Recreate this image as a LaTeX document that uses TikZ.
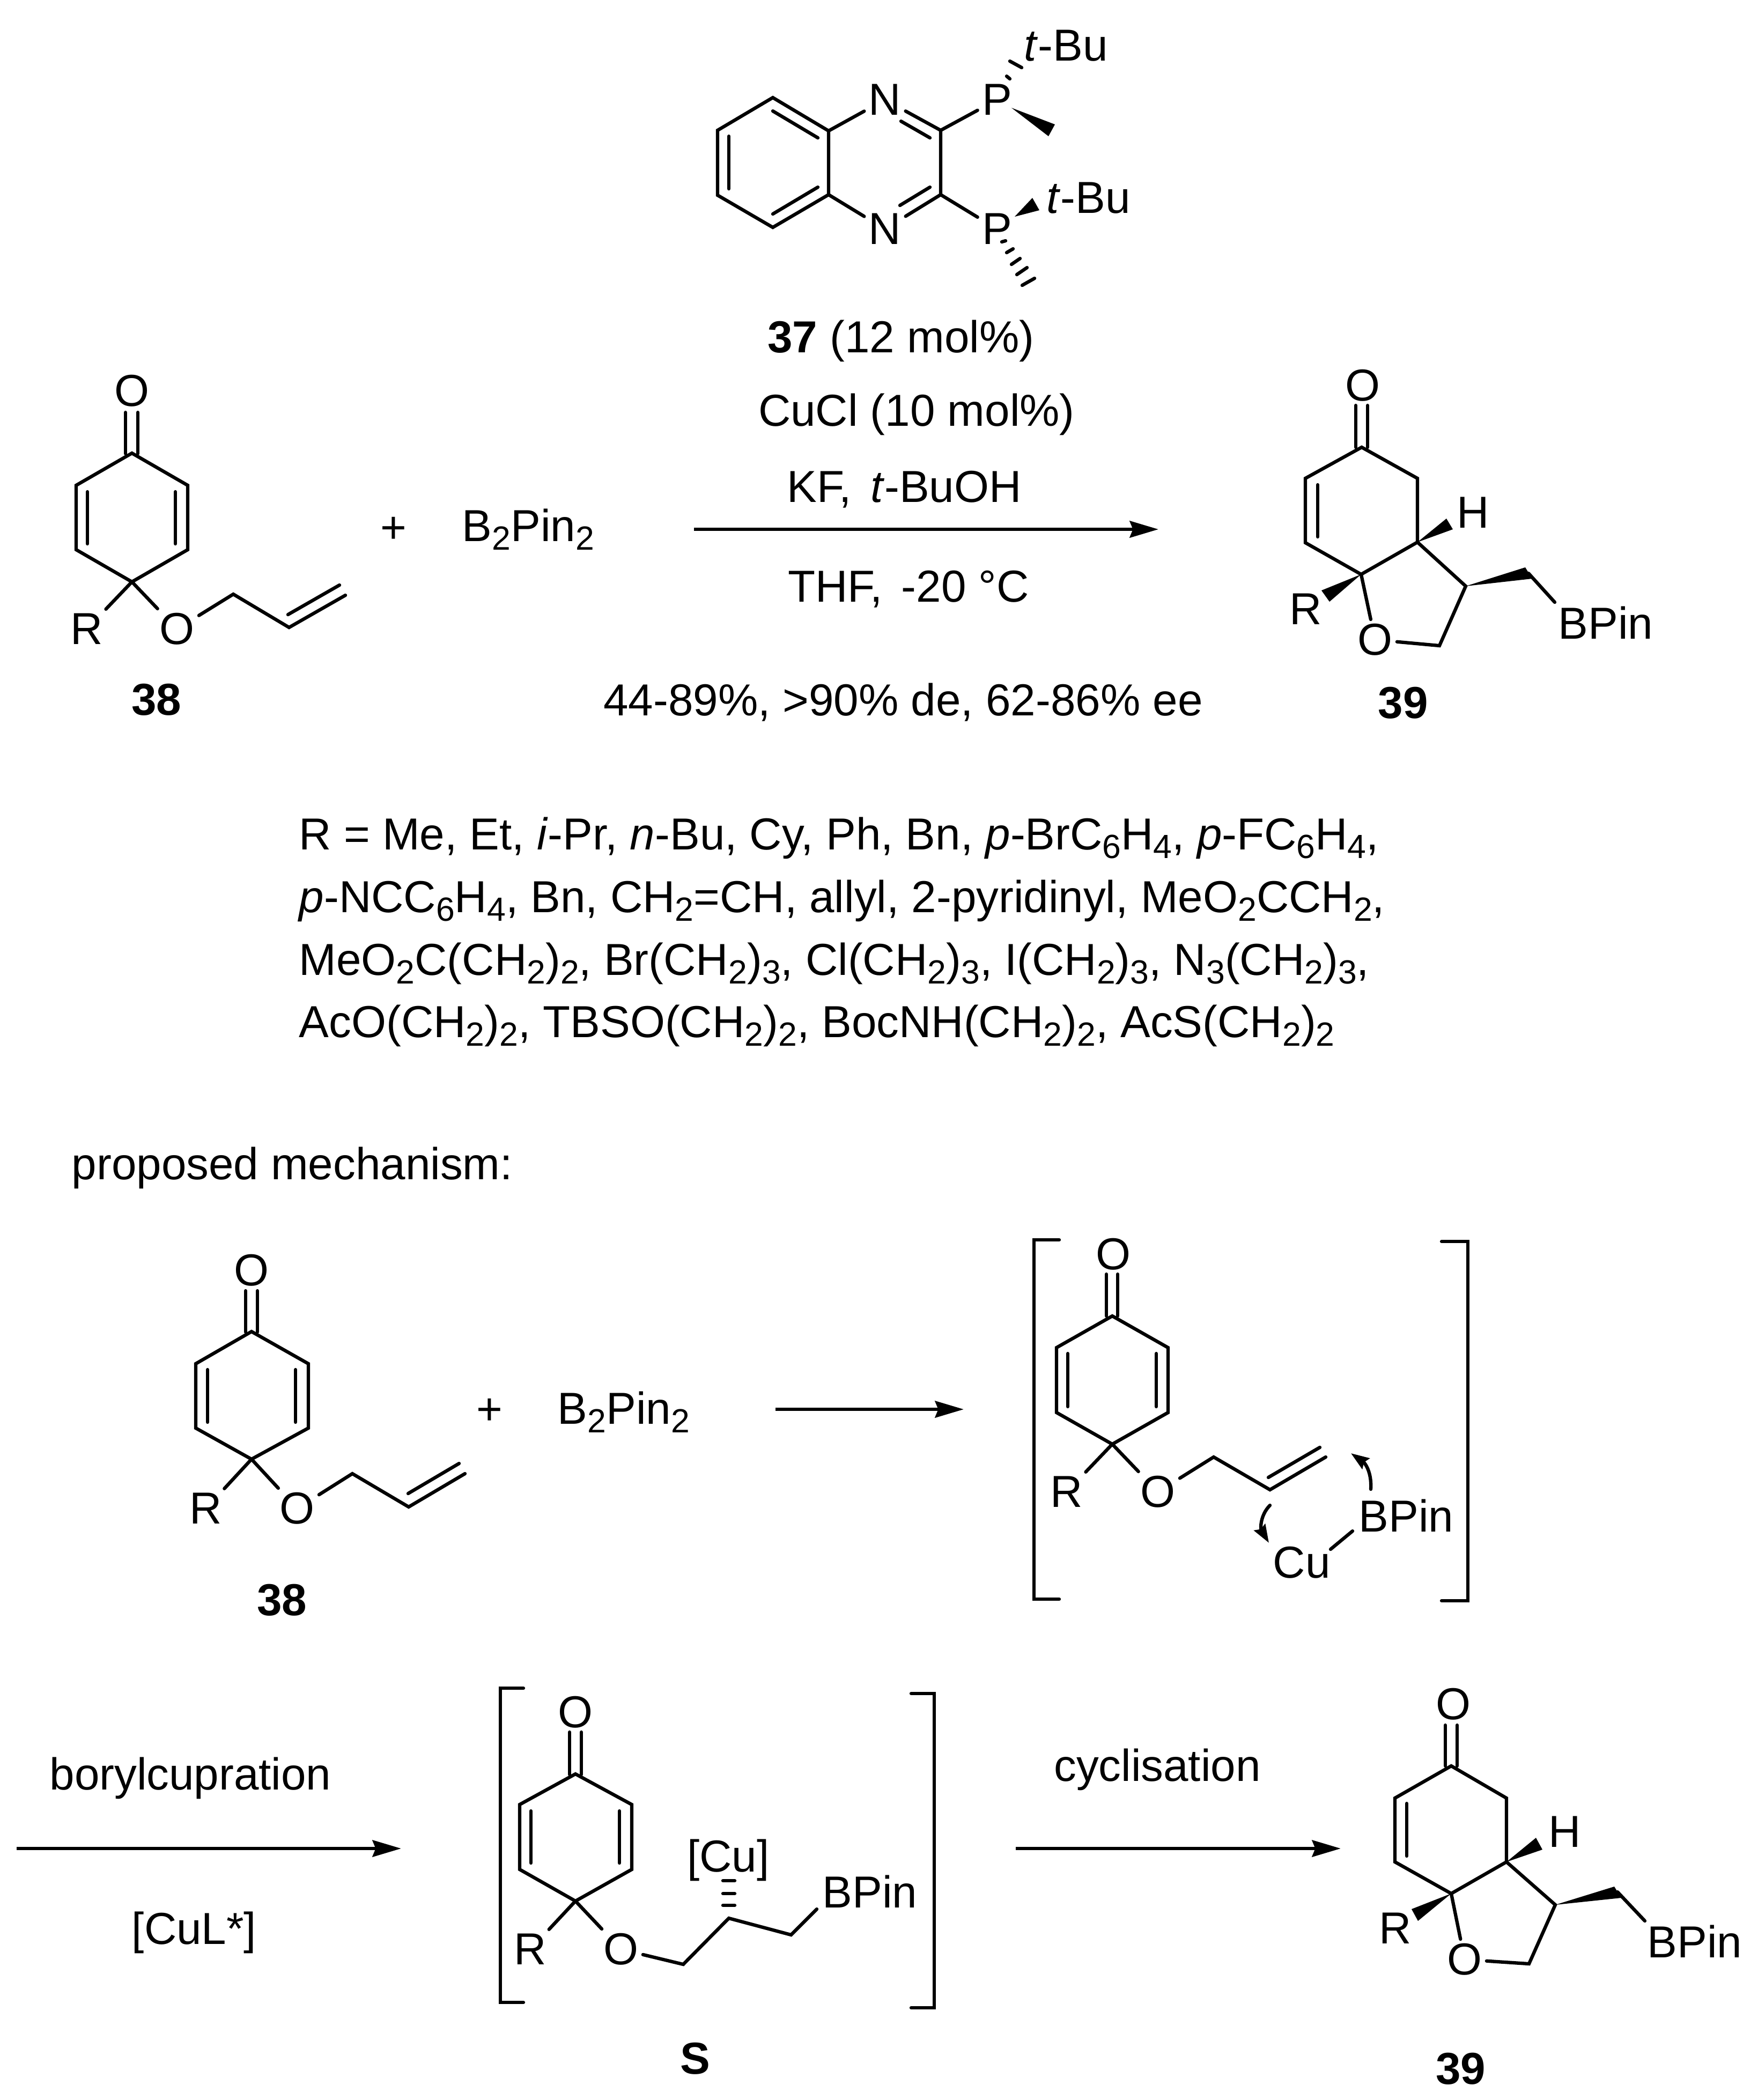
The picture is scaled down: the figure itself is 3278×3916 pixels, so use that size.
\documentclass[tikz,border=0pt]{standalone}
\usepackage{fontspec}
\setmainfont{Liberation Sans}
\usetikzlibrary{arrows.meta}
\newcommand{\sbs}[1]{\raisebox{-0.2em}{\fontsize{8.9}{10}\selectfont #1}}
\tikzset{
  bond/.style={line width=0.9pt, line cap=round},
  rxn/.style={line width=0.95pt, -{Stealth[length=7.6pt, width=4.4pt, inset=0.85pt]}},
  curly/.style={line width=0.9pt, line cap=round, -{Stealth[length=4.8pt, width=3.4pt, inset=0.6pt]}},
  atom/.style={inner sep=1pt},
  lab/.style={inner sep=0pt, anchor=base},
  labl/.style={inner sep=0pt, anchor=base west, xshift=-0.8pt},
  every node/.style={font=\fontsize{11.9}{14}\selectfont}
}

\begin{document}
\begin{tikzpicture}[x=0.005cm, y=-0.005cm]
    \useasboundingbox (0, 0) rectangle (3278, 3916);

    \foreach \n/\x/\y in {qa/1441/182, qb/1338/243, qc/1338/364, qd/1441/424, qe/1545/363, qf/1545/244, qg/1754/243, qh/1754/363,
      qi/1441/207, qj/1525/257, qk/1359/254, ql/1359/352, qm/1441/399, qo/1525/349, qp/1734/257, qr/1680/226, qs/1734/349, qt/1678/383}
      \coordinate (\n) at (\x, \y);

    \node [atom] (qN1) at (1650, 186) {N};
    \node [atom] (qN2) at (1650, 427) {N};
    \node [atom] (qP1) at (1859, 186) {P};
    \node [atom] (qP2) at (1859, 427) {P};
    \node [labl] (qtBu1) at (1914, 113) {\textit{t}-Bu};
    \node [labl] (qtBu2) at (1956, 397) {\textit{t}-Bu};

    \draw [bond] (qa) -- (qb) -- (qc) -- (qd) -- (qe) -- (qf) -- cycle;
    \draw [bond] (qi) -- (qj);
    \draw [bond] (qk) -- (ql);
    \draw [bond] (qm) -- (qo);
    \draw [bond] (qf) -- (qN1);
    \draw [bond] (qN1) -- (qg) -- (qh) -- (qN2);
    \draw [bond] (qe) -- (qN2);
    \draw [bond] (qp) -- (qr);
    \draw [bond] (qs) -- (qt);
    \draw [bond] (qg) -- (qP1);
    \draw [bond] (qh) -- (qP2);
    \fill (1886, 201) -- (1967, 232) -- (1955, 254) -- cycle;
    \fill (1892, 404) -- (1925, 369) -- (1938, 392) -- cycle;
    \draw [bond] (1883, 114) -- (1905, 126);
    \draw [bond] (1877, 142) -- (1883, 147);
    \foreach \xa/\ya/\xb/\yb in {1868/451/1875/449, 1877/471/1889/464, 1886/493/1902/482, 1896/512/1915/499, 1906/532/1929/519}
      \draw [bond] (\xa, \ya) -- (\xb, \yb);

    \foreach \n/\x/\y in {aa/246/845, ab/142/905, ac/142/1025, ad/246/1085, ae/350/1025, af/350/905, ag/234/769, ah/234/846, ai/257/769, aj/257/846,
      ak/163/917, al/163/1014, am/327/917, ao/327/1014, ap/435/1108, aq/539/1170, ar/644/1110, as/537/1146, at/633/1091}
      \coordinate (\n) at (\x, \y);

    \node [atom] (aO1) at (246, 729) {O};
    \node [atom] (aR) at (162, 1173) {R};
    \node [atom] (aO2) at (330, 1173) {O};
    \node [lab] (a38) at (292, 1333) {\textbf{38}};
    \node [atom] (aplus) at (734, 988) {+};
    \node [labl] (aB2) at (866, 1009) {B\sbs{2}Pin\sbs{2}};

    \draw [bond] (aa) -- (ab) -- (ac) -- (ad) -- (ae) -- (af) -- cycle;
    \draw [bond] (ag) -- (ah);
    \draw [bond] (ai) -- (aj);
    \draw [bond] (ak) -- (al);
    \draw [bond] (am) -- (ao);
    \draw [bond] (ad) -- (aR);
    \draw [bond] (ad) -- (aO2);
    \draw [bond] (aO2) -- (ap) -- (aq) -- (ar);
    \draw [bond] (as) -- (at);

    \coordinate (ra1) at (1294, 987);
    \coordinate (ra2) at (2160, 987);
    \draw [rxn] (ra1) -- (ra2);
    \node [lab] (r37) at (1680, 657) {\textbf{37} (12 mol\%)};
    \node [lab] (rCu) at (1709, 794) {CuCl (10 mol\%)};
    \node [lab] (rKF) at (1686, 936) {KF,\hspace{0.42em}\textit{t}-BuOH};
    \node [lab] (rTHF) at (1694, 1122) {THF,\hspace{0.42em}-20 °C};
    \node [lab] (ryield) at (1684, 1334) {44-89\%, >90\% de, 62-86\% ee};

    \foreach \n/\x/\y in {ba/2539/834, bb/2434/892, bc/2434/1012, bd/2538/1071, be/2643/1011, bf/2643/892, bg/2528/756, bh/2528/834, bi/2550/756, bj/2550/834,
      bk/2457/904, bl/2457/1001, bm/2684/1204, bn/2733/1093, bo/2850/1069, bp/2899/1123}
      \coordinate (\n) at (\x, \y);

    \node [atom] (bO1) at (2541, 719) {O};
    \node [atom] (bH) at (2747, 956) {H};
    \node [atom] (bR) at (2435, 1136) {R};
    \node [atom] (bO2) at (2564, 1193) {O};
    \node [labl] (bBPin) at (2910, 1191) {BPin};
    \node [lab] (b39) at (2616, 1339) {\textbf{39}};

    \draw [bond] (ba) -- (bb) -- (bc) -- (bd) -- (be) -- (bf) -- cycle;
    \draw [bond] (bg) -- (bh);
    \draw [bond] (bi) -- (bj);
    \draw [bond] (bk) -- (bl);
    \draw [bond] (be) -- (bn) -- (bm) -- (bO2) -- (bd);
    \draw [bond] (bo) -- (bp);
    \fill (be) -- (2697, 967) -- (2709, 987) -- cycle;
    \fill (bd) -- (2464, 1101) -- (2479, 1122) -- cycle;
    \fill (bn) -- (2844, 1058) -- (2857, 1079) -- cycle;

    \node [labl] (Rl1) at (562, 1584) {R = Me, Et, \textit{i}-Pr, \textit{n}-Bu, Cy, Ph, Bn, \textit{p}-BrC\sbs{6}H\sbs{4}, \textit{p}-FC\sbs{6}H\sbs{4},};
    \node [labl] (Rl2) at (562, 1701) {\textit{p}-NCC\sbs{6}H\sbs{4}, Bn, CH\sbs{2}=CH, allyl, 2-pyridinyl, MeO\sbs{2}CCH\sbs{2},};
    \node [labl] (Rl3) at (562, 1818) {MeO\sbs{2}C(CH\sbs{2})\sbs{2}, Br(CH\sbs{2})\sbs{3}, Cl(CH\sbs{2})\sbs{3}, I(CH\sbs{2})\sbs{3}, N\sbs{3}(CH\sbs{2})\sbs{3},};
    \node [labl] (Rl4) at (562, 1934) {AcO(CH\sbs{2})\sbs{2}, TBSO(CH\sbs{2})\sbs{2}, BocNH(CH\sbs{2})\sbs{2}, AcS(CH\sbs{2})\sbs{2}};
    \node [labl] (mech) at (138, 2199) {proposed mechanism:};

    \foreach \n/\x/\y in {ca/469/2483, cb/365/2543, cc/365/2663, cd/469/2721, ce/575/2663, cf/575/2543, cg/458/2407, ch/458/2484, ci/480/2407, cj/480/2484,
      ck/387/2554, cl/387/2652, cm/551/2554, co/551/2652, cp/657/2748, cq/762/2810, cr/867/2748, cs/761/2785, ct/856/2729}
      \coordinate (\n) at (\x, \y);

    \node [atom] (cO1) at (469, 2369) {O};
    \node [atom] (cR) at (384, 2813) {R};
    \node [atom] (cO2) at (554, 2813) {O};
    \node [lab] (c38) at (526, 3012) {\textbf{38}};
    \node [atom] (cplus) at (913, 2632) {+};
    \node [labl] (cB2) at (1044, 2655) {B\sbs{2}Pin\sbs{2}};

    \draw [bond] (ca) -- (cb) -- (cc) -- (cd) -- (ce) -- (cf) -- cycle;
    \draw [bond] (cg) -- (ch);
    \draw [bond] (ci) -- (cj);
    \draw [bond] (ck) -- (cl);
    \draw [bond] (cm) -- (co);
    \draw [bond] (cd) -- (cR);
    \draw [bond] (cd) -- (cO2);
    \draw [bond] (cO2) -- (cp) -- (cq) -- (cr);
    \draw [bond] (cs) -- (ct);

    \coordinate (ma1) at (1446, 2628);
    \coordinate (ma2) at (1797, 2628);
    \draw [rxn] (ma1) -- (ma2);

    \foreach \n/\x/\y in {da/2074/2454, db/1970/2513, dc/1970/2634, dd/2074/2693, de/2178/2634, df/2178/2513, dg/2063/2376, dh/2063/2454, di/2084/2376, dj/2084/2454,
      dk/1991/2524, dl/1991/2623, dm/2156/2524, dn/2156/2623, dp/2263/2717, dq/2368/2778, dr/2472/2717, ds/2365/2755, dt/2461/2699,
      du/2481/2889, dv/2522/2855}
      \coordinate (\n) at (\x, \y);

    \node [atom] (dO1) at (2076, 2339) {O};
    \node [atom] (dR) at (1989, 2782) {R};
    \node [atom] (dO2) at (2159, 2782) {O};
    \node [labl] (dBPin) at (2538, 2856) {BPin};
    \node [labl] (dCu) at (2378, 2942) {Cu};

    \draw [bond] (da) -- (db) -- (dc) -- (dd) -- (de) -- (df) -- cycle;
    \draw [bond] (dg) -- (dh);
    \draw [bond] (di) -- (dj);
    \draw [bond] (dk) -- (dl);
    \draw [bond] (dm) -- (dn);
    \draw [bond] (dd) -- (dR);
    \draw [bond] (dd) -- (dO2);
    \draw [bond] (dO2) -- (dp) -- (dq) -- (dr);
    \draw [bond] (ds) -- (dt);
    \draw [bond] (du) -- (dv);
    \draw [curly] (2556, 2777) .. controls (2558, 2745) and (2545, 2728) .. (2519, 2710);
    \draw [curly] (2368, 2807) .. controls (2350, 2825) and (2350, 2850) .. (2366, 2877);
    \draw [bond] (1975, 2312) -- (1928, 2312) -- (1928, 2982) -- (1975, 2982);
    \draw [bond] (2688, 2315) -- (2737, 2315) -- (2737, 2985) -- (2688, 2985);

    \coordinate (ba1) at (31, 3447);
    \coordinate (ba2) at (748, 3447);
    \draw [rxn] (ba1) -- (ba2);
    \node [lab] (bbory) at (355, 3337) {borylcupration};
    \node [lab] (bCuL) at (362, 3625) {[CuL*]};

    \foreach \n/\x/\y in {ea/1073/3308, eb/969/3365, ec/969/3486, ed/1073/3545, ee/1178/3486, ef/1178/3365, eg/1062/3230, eh/1062/3309, ei/1084/3230, ej/1084/3309,
      ek/990/3377, el/990/3474, em/1155/3377, en/1155/3474, ep/1274/3663, eq/1359/3577, er/1475/3608, es/1523/3560}
      \coordinate (\n) at (\x, \y);

    \node [atom] (eO1) at (1073, 3193) {O};
    \node [atom] (eR) at (989, 3635) {R};
    \node [atom] (eO2) at (1158, 3635) {O};
    \node [labl] (eBPin) at (1538, 3557) {BPin};
    \node [lab] (eCu) at (1358, 3490) {[Cu]};
    \node [lab] (eS) at (1296, 3867) {\textbf{S}};

    \draw [bond] (ea) -- (eb) -- (ec) -- (ed) -- (ee) -- (ef) -- cycle;
    \draw [bond] (eg) -- (eh);
    \draw [bond] (ei) -- (ej);
    \draw [bond] (ek) -- (el);
    \draw [bond] (em) -- (en);
    \draw [bond] (ed) -- (eR);
    \draw [bond] (ed) -- (eO2);
    \draw [bond] (eO2) -- (ep) -- (eq) -- (er) -- (es);
    \foreach \y in {3553, 3531, 3507}
      \draw [bond] (1348, \y) -- (1370, \y);
    \draw [bond] (976, 3148) -- (933, 3148) -- (933, 3734) -- (976, 3734);
    \draw [bond] (1699, 3158) -- (1742, 3158) -- (1742, 3744) -- (1699, 3744);

    \coordinate (ca1) at (1894, 3447);
    \coordinate (ca2) at (2500, 3447);
    \draw [rxn] (ca1) -- (ca2);
    \node [lab] (ccycl) at (2158, 3321) {cyclisation};

    \foreach \n/\x/\y in {fa/2706/3293, fb/2601/3353, fc/2601/3472, fd/2706/3531, fe/2809/3472, ff/2809/3353, fg/2695/3217, fh/2695/3293, fi/2717/3217, fj/2717/3293,
      fk/2623/3363, fl/2623/3461, fm/2851/3662, fn/2900/3552, fo/3016/3528, fp/3067/3582}
      \coordinate (\n) at (\x, \y);

    \node [atom] (fO1) at (2710, 3178) {O};
    \node [atom] (fH) at (2918, 3416) {H};
    \node [atom] (fR) at (2602, 3596) {R};
    \node [atom] (fO2) at (2731, 3654) {O};
    \node [labl] (fBPin) at (3076, 3650) {BPin};
    \node [lab] (f39) at (2724, 3886) {\textbf{39}};

    \draw [bond] (fa) -- (fb) -- (fc) -- (fd) -- (fe) -- (ff) -- cycle;
    \draw [bond] (fg) -- (fh);
    \draw [bond] (fi) -- (fj);
    \draw [bond] (fk) -- (fl);
    \draw [bond] (fe) -- (fn) -- (fm) -- (fO2) -- (fd);
    \draw [bond] (fo) -- (fp);
    \fill (fe) -- (2864, 3427) -- (2876, 3449) -- cycle;
    \fill (fd) -- (2632, 3560) -- (2644, 3582) -- cycle;
    \fill (fn) -- (3010, 3518) -- (3023, 3539) -- cycle;
  \end{tikzpicture}
\end{document}
